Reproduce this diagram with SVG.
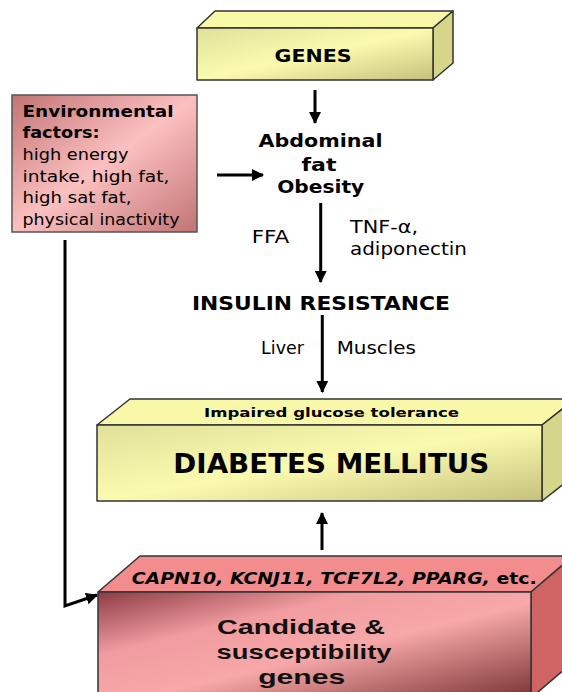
<svg xmlns="http://www.w3.org/2000/svg" width="562" height="692" viewBox="0 0 562 692">
<defs>
<linearGradient id="gY" x1="0" y1="0" x2="1" y2="1">
<stop offset="0" stop-color="#e0e09a"/><stop offset="0.5" stop-color="#fbfbb0"/><stop offset="1" stop-color="#c6c07c"/>
</linearGradient>
<linearGradient id="gEnv" x1="0" y1="0" x2="1" y2="1">
<stop offset="0" stop-color="#c27474"/><stop offset="0.5" stop-color="#fcc0c0"/><stop offset="1" stop-color="#c27474"/>
</linearGradient>
<linearGradient id="gC" x1="0" y1="0" x2="1" y2="1">
<stop offset="0" stop-color="#8c3c44"/><stop offset="0.3" stop-color="#f09ca0"/><stop offset="0.55" stop-color="#f8a8a8"/><stop offset="1" stop-color="#7a3434"/>
</linearGradient>
<marker id="ah" viewBox="0 0 12 12" refX="11" refY="6" markerWidth="12" markerHeight="12" markerUnits="userSpaceOnUse" orient="auto">
<path d="M0,0 L12,6 L0,12 z" fill="#000"/>
</marker>
</defs>
<style>
.edge{stroke:#333;stroke-width:1.5;stroke-linejoin:round}
.v{font-family:"DejaVu Sans",Verdana,sans-serif;fill:#000}
.b{font-weight:bold}
.a{font-family:"Liberation Sans",Arial,sans-serif;font-weight:bold;fill:#111}
.conn{stroke:#000;stroke-width:3;fill:none}
</style>
<rect width="562" height="692" fill="#fff"/>

<g id="genes">
<polygon class="edge" points="197,28 215,11 453,11 433,28" fill="#f8f8a8"/>
<polygon class="edge" points="433,28 453,11 453,63 433,80" fill="#d6d68a"/>
<rect class="edge" x="197" y="28" width="236" height="52" fill="url(#gY)"/>
<text class="v b" x="313" y="62" font-size="18" text-anchor="middle" textLength="77" lengthAdjust="spacingAndGlyphs">GENES</text>
</g>

<g id="env">
<rect x="12" y="95" width="185" height="137" fill="url(#gEnv)" stroke="#555" stroke-width="1.5"/>
<text class="v b" x="22.5" y="117" font-size="16" textLength="151" lengthAdjust="spacingAndGlyphs">Environmental</text>
<text class="v b" x="22.5" y="138" font-size="16" textLength="77" lengthAdjust="spacingAndGlyphs">factors:</text>
<text class="v" x="22.5" y="160" font-size="16" textLength="106" lengthAdjust="spacingAndGlyphs">high energy</text>
<text class="v" x="22.5" y="181.5" font-size="16" textLength="147" lengthAdjust="spacingAndGlyphs">intake, high fat,</text>
<text class="v" x="22.5" y="203" font-size="16" textLength="109" lengthAdjust="spacingAndGlyphs">high sat fat,</text>
<text class="v" x="22.5" y="224.5" font-size="16" textLength="157" lengthAdjust="spacingAndGlyphs">physical inactivity</text>
</g>

<g id="obesity">
<text class="v b" x="320.5" y="147" font-size="18" text-anchor="middle" textLength="124" lengthAdjust="spacingAndGlyphs">Abdominal</text>
<text class="v b" x="319" y="170.5" font-size="18" text-anchor="middle" textLength="35" lengthAdjust="spacingAndGlyphs">fat</text>
<text class="v b" x="320.7" y="193" font-size="18" text-anchor="middle" textLength="87" lengthAdjust="spacingAndGlyphs">Obesity</text>
</g>

<g id="insulin">
<text class="v b" x="192" y="310" font-size="19" textLength="258" lengthAdjust="spacingAndGlyphs">INSULIN RESISTANCE</text>
</g>

<g id="labels">
<text class="v" x="251.7" y="243" font-size="17" textLength="37.6" lengthAdjust="spacingAndGlyphs">FFA</text>
<text class="v" x="350" y="233" font-size="17" textLength="68" lengthAdjust="spacingAndGlyphs">TNF-α,</text>
<text class="v" x="350" y="254.5" font-size="17" textLength="117" lengthAdjust="spacingAndGlyphs">adiponectin</text>
<text class="v" x="261" y="354" font-size="17" textLength="43" lengthAdjust="spacingAndGlyphs">Liver</text>
<text class="v" x="336.7" y="354" font-size="17" textLength="79.3" lengthAdjust="spacingAndGlyphs">Muscles</text>
</g>

<g id="diabetes">
<polygon class="edge" points="97,425 130,399 575,399 542,425" fill="#f8f8a8"/>
<polygon class="edge" points="542,425 575,399 575,475 542,501" fill="#d6d68a"/>
<rect class="edge" x="97" y="425" width="445" height="76" fill="url(#gY)"/>
<text class="v b" x="204" y="417" font-size="13" textLength="255" lengthAdjust="spacingAndGlyphs">Impaired glucose tolerance</text>
<text class="v b" x="173.3" y="473" font-size="26" textLength="316" lengthAdjust="spacingAndGlyphs">DIABETES MELLITUS</text>
</g>

<g id="candidate">
<polygon class="edge" points="98,592 140,556 573,556 531,592" fill="#f38c8c"/>
<polygon class="edge" points="531,592 573,556 573,662 531,698" fill="#d06464"/>
<rect class="edge" x="98" y="592" width="433" height="106" fill="url(#gC)"/>
<text class="v b" x="131.7" y="583.5" font-size="16" textLength="405" lengthAdjust="spacingAndGlyphs"><tspan font-style="italic">CAPN10, KCNJ11, TCF7L2, PPARG,</tspan> etc.</text>
<text class="a" x="301" y="634" font-size="21" text-anchor="middle" textLength="168" lengthAdjust="spacingAndGlyphs">Candidate &amp;</text>
<text class="a" x="304" y="658.5" font-size="21" text-anchor="middle" textLength="175" lengthAdjust="spacingAndGlyphs">susceptibility</text>
<text class="a" x="301.7" y="683.5" font-size="21" text-anchor="middle" textLength="87" lengthAdjust="spacingAndGlyphs">genes</text>
</g>

<g id="connectors">
<line class="conn" x1="315" y1="90" x2="315" y2="123" marker-end="url(#ah)"/>
<line class="conn" x1="217" y1="175" x2="263" y2="175" marker-end="url(#ah)"/>
<line class="conn" x1="320.7" y1="203" x2="320.7" y2="282" marker-end="url(#ah)"/>
<line class="conn" x1="322.3" y1="315" x2="322.3" y2="392" marker-end="url(#ah)"/>
<line class="conn" x1="322" y1="550" x2="322" y2="513" marker-end="url(#ah)"/>
<polyline class="conn" stroke-width="4" points="65,240 65,606 97,595" marker-end="url(#ah)"/>
</g>
</svg>
